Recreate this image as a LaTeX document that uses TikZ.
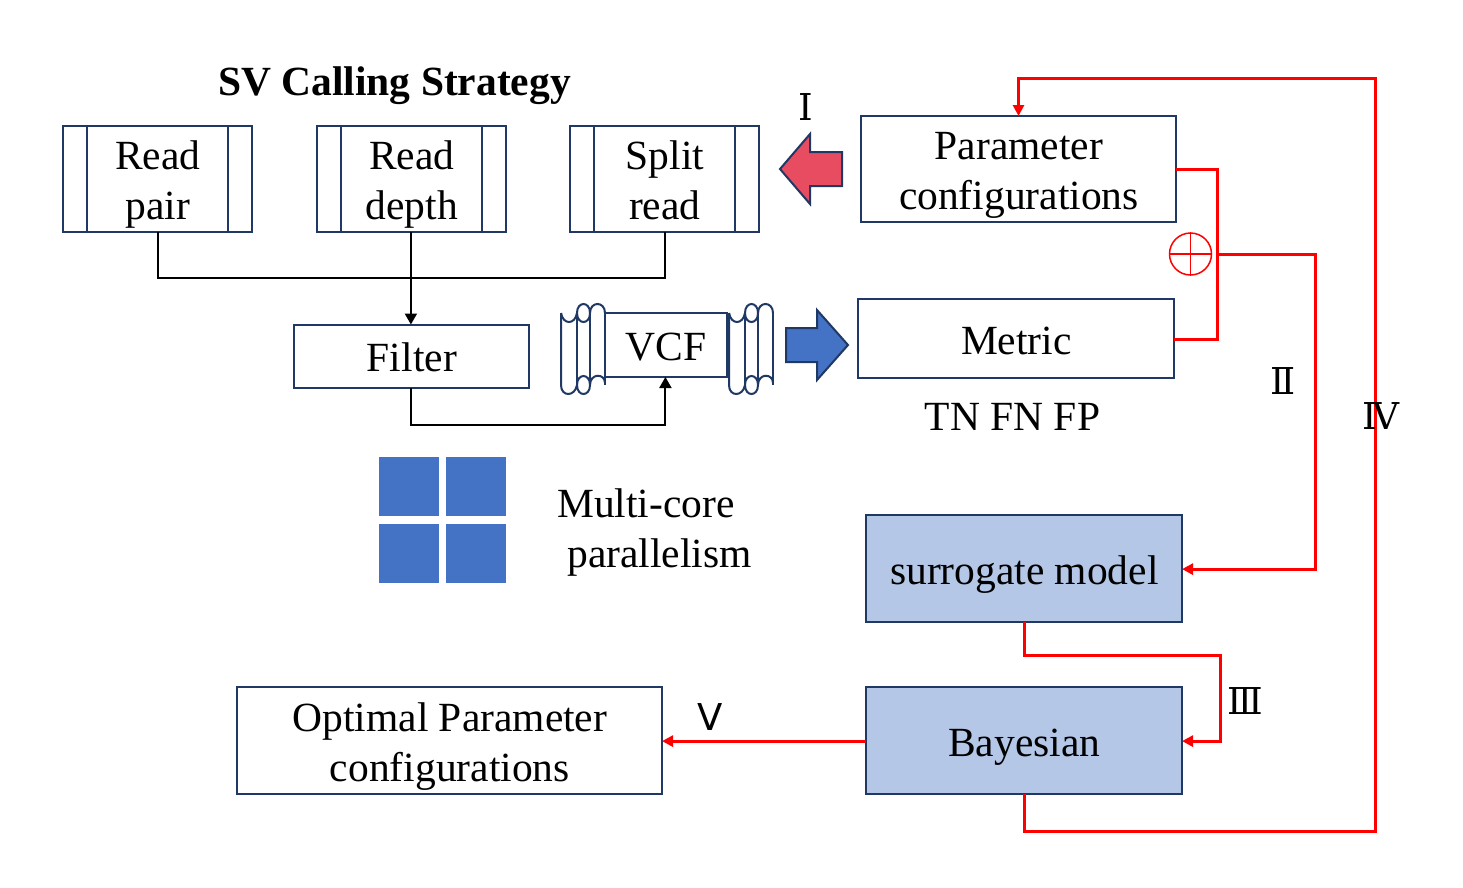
\documentclass[tikz,border=0pt]{standalone}
\usepackage{fontspec}
\setmainfont{Liberation Serif}
\newfontfamily\numfont{DejaVu Serif}
\newfontfamily\numfontb{DejaVu Sans}
\usetikzlibrary{arrows.meta,calc}
\definecolor{navy}{HTML}{1F3864}
\definecolor{blockblue}{HTML}{4472C4}
\definecolor{paleblue}{HTML}{B4C7E7}
\definecolor{blockred}{HTML}{E84C61}
\definecolor{redline}{HTML}{FF0000}
\newcommand{\ls}{\rule[-9.5pt]{0pt}{50pt}\kern.7pt}
\tikzset{
  box/.style={draw=navy,line width=2pt,inner sep=0pt,outer sep=0pt,align=center,font=\fontsize{41.5}{50}\selectfont},
  modelbox/.style={box,fill=paleblue},
  label/.style={inner sep=0pt,outer sep=0pt,align=center,font=\fontsize{41.5}{50}\selectfont},
  numeral/.style={inner sep=0pt,outer sep=0pt,font=\fontsize{37}{40}\numfont},
  numeralb/.style={inner sep=0pt,outer sep=0pt,font=\fontsize{37}{40}\numfontb},
  flow/.style={black,line width=2pt,-{Triangle[length=11pt,width=12pt]}},
  plain/.style={black,line width=2pt},
  redflow/.style={redline,line width=3pt,-{Triangle[length=11pt,width=11pt]}},
  redplain/.style={redline,line width=3pt},
  inner/.style={navy,line width=2pt},
  block/.style={draw=navy,line width=2pt,line join=miter},
  tile/.style={fill=blockblue,draw=none},
}
\newcommand{\scrollpiece}[1]{%
  \begin{scope}[xshift=#1pt,yshift=-313pt,navy,line width=2pt]
    \draw (0,0) -- (0,72) .. controls (0,84) and (14,84) .. (16,72);
    \draw (0,0) .. controls (2,12) and (14,12) .. (16,0);
    \draw (16,0) -- (16,72);
    \draw (29,0) -- (29,72);
    \draw (44,0) -- (44,72);
    % upper loop
    \draw (16,0) .. controls (16,-12) and (29,-12) .. (29,0) .. controls (29,12) and (16,12) .. (16,0);
    \draw (29,0) .. controls (29,-12) and (44,-12) .. (44,0);
    % lower loop
    \draw (16,72) .. controls (16,60) and (29,60) .. (29,72) .. controls (29,84) and (16,84) .. (16,72);
    \draw (29,72) .. controls (29,60) and (44,60) .. (44,70);
  \end{scope}}
\begin{document}
\begin{tikzpicture}[x=1pt,y=-1pt]
\useasboundingbox (0,0) rectangle (1463,887);
\fill[white] (0,0) rectangle (1463,887);

\node[label,font=\fontsize{41.5}{50}\selectfont\bfseries] (title) at (394.5,86) {SV Calling Strategy};

% predefined-process boxes
\node[box,minimum width=189pt,minimum height=106pt] (rp) at (157.5,179) {\ls Read\\\ls pair};
\node[box,minimum width=189pt,minimum height=106pt] (rd) at (411.5,179) {\ls Read\\\ls depth};
\node[box,minimum width=189pt,minimum height=106pt] (sr) at (664.5,179) {\ls Split\\\ls read};
\foreach \n in {rp,rd,sr}{
  \draw[inner] ($(\n.north west)+(24,0)$) -- ($(\n.south west)+(24,0)$);
  \draw[inner] ($(\n.north east)+(-24,0)$) -- ($(\n.south east)+(-24,0)$);
}

\node[box,minimum width=235pt,minimum height=63pt] (filter) at (411.5,356) {\ls Filter};

% VCF scroll
\scrollpiece{561}
\scrollpiece{729}
\node[box,minimum width=122pt,minimum height=64pt] (vcf) at (666,345) {\ls VCF};

\node[box,minimum width=315pt,minimum height=106pt] (param) at (1018.5,169) {\ls Parameter\\\ls configurations};
\node[box,minimum width=316pt,minimum height=79pt] (metric) at (1016,338.5) {\ls Metric};
\node[label] (tn) at (1012.5,417) {TN FN FP};

% tiles
\fill[tile] (379,457) rectangle (439,516);
\fill[tile] (446,457) rectangle (506,516);
\fill[tile] (379,524) rectangle (439,583);
\fill[tile] (446,524) rectangle (506,583);
\node[label] (mc1) at (646,503) {Multi-core};
\node[label] (mc2) at (659.5,558) {parallelism};

\node[modelbox,minimum width=316pt,minimum height=107pt] (sm) at (1024,568.5) {\ls surrogate model};
\node[modelbox,minimum width=316pt,minimum height=107pt] (bay) at (1024,740.5) {\ls Bayesian};
\node[box,minimum width=425pt,minimum height=107pt] (opt) at (449.5,740.5) {\ls Optimal Parameter\\\ls configurations};

% block arrows
\draw[block,fill=blockred] (780,169) -- (810,134) -- (810,152) -- (842,152) -- (842,186) -- (810,186) -- (810,204) -- cycle;
\draw[block,fill=blockblue] (786,328) -- (817,328) -- (817,310) -- (848,345) -- (817,380) -- (817,362) -- (786,362) -- cycle;

% black connectors
\coordinate (bus) at (411,278);
\coordinate (low) at (411,424.5);
\draw[plain] (rp.south) |- (bus) -| (sr.south);
\draw[flow] ([xshift=-.6pt]rd.south) -- ([xshift=-.6pt]filter.north);
\draw[flow] ([xshift=-.6pt]filter.south) |- (low) -| ([xshift=-.6pt]vcf.south);

% red connectors
\coordinate (j) at (1217,254.5);
\coordinate (r2) at (1315,254.5);
\coordinate (r3) at (1220,655);
\coordinate (r4) at (1375.5,831);
\coordinate (r5) at (1375.5,78.5);
\draw[redplain] (param.east) -| (j) |- ([yshift=-.6pt]metric.east);
\draw[redflow] (j) -- (r2) |- ([yshift=-.6pt]sm.east);
\draw[redflow] (sm.south) |- (r3) |- ([yshift=-.6pt]bay.east);
\draw[redflow] ([yshift=-.6pt]bay.west) -- ([yshift=-.6pt]opt.east);
\draw[redflow] (bay.south) |- (r4) -- (r5) -| (param.north);

% circled plus
\node[circle,draw=redline,line width=1.5pt,minimum size=42pt,inner sep=0pt] (plus) at (1190.5,254) {};
\draw[redline,line width=1.2pt] (plus.west) -- (plus.east);
\draw[redline,line width=1.2pt] (plus.north) -- (plus.south);

% numerals
\node[numeral] (n1) at (806,107) {Ⅰ};
\node[numeral] (n2) at (1283,381) {Ⅱ};
\node[numeral] (n3) at (1245,701) {Ⅲ};
\node[numeral] (n4) at (1381,416) {Ⅳ};
\node[numeralb] (n5) at (710,717) {Ⅴ};
\end{tikzpicture}
\end{document}
